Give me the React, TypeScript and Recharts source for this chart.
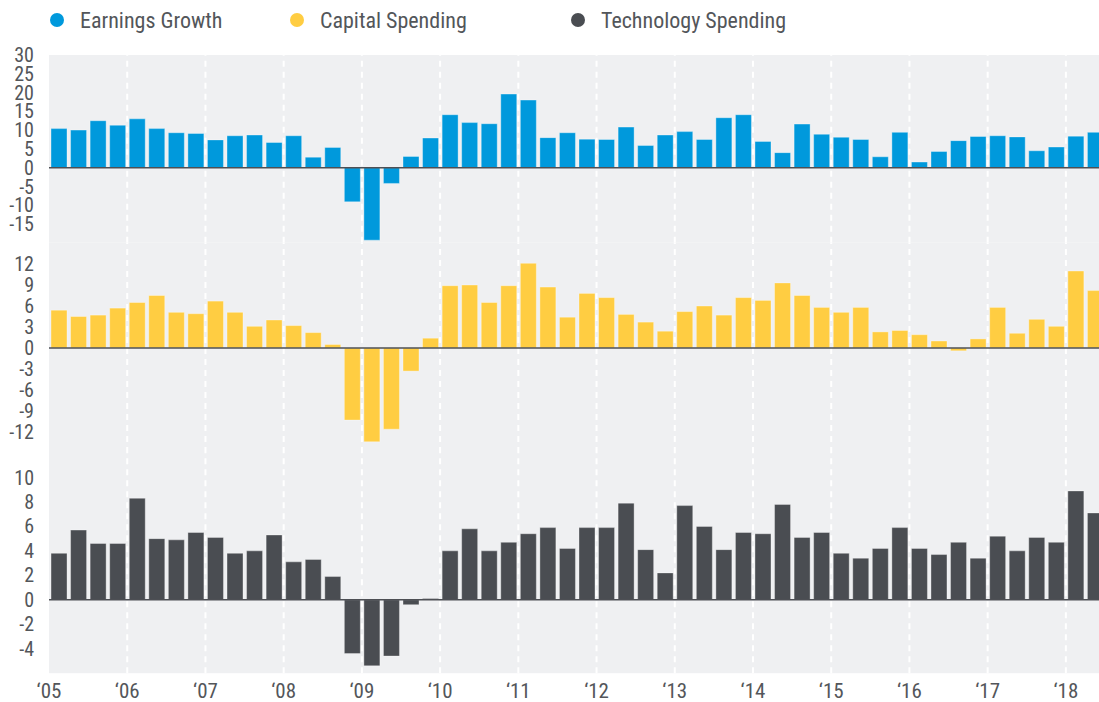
import React from 'react';
import { BarChart, Bar, XAxis, YAxis, ReferenceLine, CartesianGrid } from 'recharts';

// quarters, '05 Q1 .. '18 Q2
const quarters = [
  '2005Q1', '2005Q2', '2005Q3', '2005Q4', '2006Q1', '2006Q2', '2006Q3', '2006Q4',
  '2007Q1', '2007Q2', '2007Q3', '2007Q4', '2008Q1', '2008Q2', '2008Q3', '2008Q4',
  '2009Q1', '2009Q2', '2009Q3', '2009Q4', '2010Q1', '2010Q2', '2010Q3', '2010Q4',
  '2011Q1', '2011Q2', '2011Q3', '2011Q4', '2012Q1', '2012Q2', '2012Q3', '2012Q4',
  '2013Q1', '2013Q2', '2013Q3', '2013Q4', '2014Q1', '2014Q2', '2014Q3', '2014Q4',
  '2015Q1', '2015Q2', '2015Q3', '2015Q4', '2016Q1', '2016Q2', '2016Q3', '2016Q4',
  '2017Q1', '2017Q2', '2017Q3', '2017Q4', '2018Q1', '2018Q2',
];

const earningsGrowth = [
  10.4, 10.0, 12.5, 11.3, 13.0, 10.4, 9.3, 9.1, 7.4, 8.5,
  8.7, 6.7, 8.5, 2.8, 5.4, -9.1, -19.3, -4.2, 3.0, 7.9,
  14.1, 12.0, 11.7, 19.6, 18.0, 8.0, 9.3, 7.6, 7.5, 10.8,
  5.9, 8.7, 9.6, 7.5, 13.3, 14.1, 7.0, 4.0, 11.6, 8.9,
  8.1, 7.5, 2.9, 9.4, 1.5, 4.3, 7.2, 8.3, 8.5, 8.2,
  4.5, 5.5, 8.4, 9.4,
];

const capitalSpending = [
  5.4, 4.5, 4.7, 5.7, 6.5, 7.5, 5.1, 4.9, 6.7, 5.1,
  3.1, 4.0, 3.2, 2.2, 0.5, -10.3, -13.4, -11.6, -3.3, 1.4,
  8.9, 9.0, 6.5, 8.9, 12.1, 8.7, 4.4, 7.8, 7.2, 4.8,
  3.7, 2.4, 5.2, 6.0, 4.7, 7.2, 6.8, 9.3, 7.5, 5.8,
  5.1, 5.8, 2.3, 2.5, 1.9, 1.0, -0.4, 1.3, 5.8, 2.1,
  4.1, 3.1, 11.0, 8.2,
];

const techSpending = [
  3.8, 5.7, 4.6, 4.6, 8.3, 5.0, 4.9, 5.5, 5.1, 3.8,
  4.0, 5.3, 3.1, 3.3, 1.9, -4.4, -5.4, -4.6, -0.4, 0.1,
  4.0, 5.8, 4.0, 4.7, 5.4, 5.9, 4.2, 5.9, 5.9, 7.9,
  4.1, 2.2, 7.7, 6.0, 4.1, 5.5, 5.4, 7.8, 5.1, 5.5,
  3.8, 3.4, 4.2, 5.9, 4.2, 3.7, 4.7, 3.4, 5.2, 4.0,
  5.1, 4.7, 8.9, 7.1,
];

const years = [2005, 2006, 2007, 2008, 2009, 2010, 2011, 2012, 2013, 2014, 2015, 2016, 2017, 2018];
const yearLabels = ['‘05', '‘06', '‘07', '‘08', '‘09', '‘10', '‘11', '‘12', '‘13', '‘14', '‘15', '‘16', '‘17', '‘18'];

const earningsTicks = [-15, -10, -5, 0, 5, 10, 15, 20, 25, 30];
const capitalTicks = [-12, -9, -6, -3, 0, 3, 6, 9, 12];
const techTicks = [-4, -2, 0, 2, 4, 6, 8, 10];

// t = start of the quarter as a decimal year, for the year axis
const data = quarters.map((q, i) => ({
  q,
  t: Number(q.slice(0, 4)) + (Number(q.slice(5)) - 1) / 4,
  earnings: earningsGrowth[i],
  capital: capitalSpending[i],
  tech: techSpending[i],
}));

const FONT = "'Liberation Sans Narrow', 'Roboto Condensed', 'DejaVu Sans Condensed', sans-serif";
const TEXT = '#53565a';
const BG = '#eff0f2';
const CHART_W = 1105;

const series = [
  { key: 'earnings', name: 'Earnings Growth', color: '#0099dc' },
  { key: 'capital', name: 'Capital Spending', color: '#ffcd42' },
  { key: 'tech', name: 'Technology Spending', color: '#4a4d52' },
];

interface PanelProps {
  dataKey: string;
  color: string;
  domain: [number, number];
  ticks: number[];
  top: number;
  height: number;
  marginTop?: number;
  showYears?: boolean;
}

const Panel: React.FC<PanelProps> = ({ dataKey, color, domain, ticks, top, height, marginTop = 0, showYears }) => (
  <div style={{ position: 'absolute', left: 0, top }}>
    <BarChart
      width={CHART_W}
      height={height}
      data={data}
      margin={{ top: marginTop, right: 0, left: 0, bottom: 0 }}
      barSize={16}
    >
      <CartesianGrid xAxisId="q" horizontal={false} vertical={false} fill={BG} />
      <XAxis xAxisId="q" dataKey="q" orientation="top" height={0} hide />
      <XAxis
        xAxisId="yr"
        dataKey="t"
        type="number"
        domain={[2005, 2018.5]}
        allowDataOverflow
        ticks={years}
        hide={!showYears}
        height={showYears ? 30 : 0}
        axisLine={false}
        tickLine={false}
        tickMargin={4}
        interval={0}
        tick={{ fill: TEXT, fontSize: 21, fontFamily: FONT }}
        tickFormatter={(v: number) => yearLabels[years.indexOf(v)]}
      />
      <YAxis
        domain={domain}
        ticks={ticks}
        allowDataOverflow
        width={49}
        axisLine={false}
        tickLine={false}
        tickMargin={9}
        interval={0}
        tick={{ fill: TEXT, fontSize: 20, fontFamily: FONT }}
      />
      {years.slice(1).map(y => (
        <ReferenceLine
          key={y}
          xAxisId="yr"
          x={y}
          stroke="#ffffff"
          strokeWidth={2}
          strokeDasharray="6 5"
        />
      ))}
      <Bar
        xAxisId="q"
        dataKey={dataKey}
        fill={color}
        stroke="rgba(255,255,255,0.35)"
        strokeWidth={1}
        isAnimationActive={false}
      />
      <ReferenceLine xAxisId="q" y={0} stroke="#4d4f54" strokeWidth={1.5} />
    </BarChart>
  </div>
);

const Legend: React.FC = () => {
  const lefts = [50, 290, 571];
  return (
    <div>
      {series.map((s, i) => (
        <div
          key={s.key}
          style={{
            position: 'absolute',
            left: lefts[i],
            top: 7,
            height: 26,
            display: 'flex',
            alignItems: 'center',
            fontFamily: FONT,
            fontSize: 22,
            color: TEXT,
            whiteSpace: 'nowrap',
          }}
        >
          <span
            style={{
              display: 'inline-block',
              width: 14,
              height: 14,
              borderRadius: 7,
              background: s.color,
              marginRight: 16,
            }}
          />
          {s.name}
        </div>
      ))}
    </div>
  );
};

export default function App() {
  return (
    <div
      style={{
        position: 'absolute',
        left: 0,
        top: 0,
        width: 1099,
        height: 702,
        overflow: 'hidden',
        background: '#ffffff',
      }}
    >
      <Legend />
      <Panel dataKey="earnings" color={series[0].color} domain={[-20, 30]} ticks={earningsTicks} top={39} height={203.8} marginTop={16} />
      <Panel dataKey="capital" color={series[1].color} domain={[-15, 15]} ticks={capitalTicks} top={242.8} height={210} />
      <Panel dataKey="tech" color={series[2].color} domain={[-6, 12]} ticks={techTicks} top={452.8} height={250.2} showYears />
    </div>
  );
}
